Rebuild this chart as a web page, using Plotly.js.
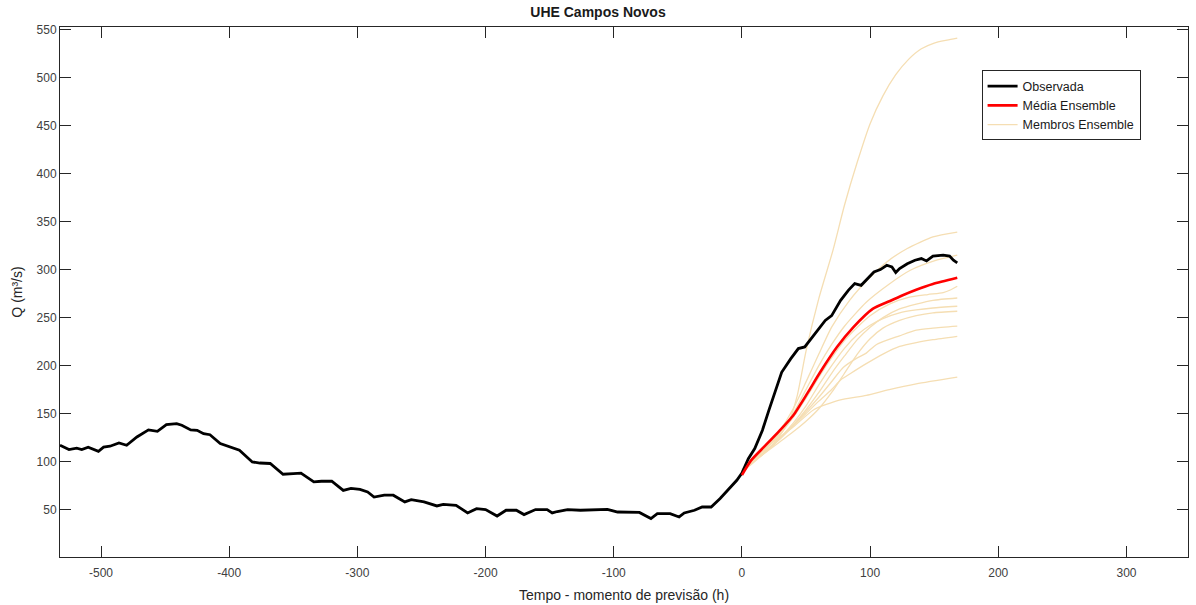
<!DOCTYPE html>
<html>
<head>
<meta charset="utf-8">
<script src="https://cdn.plot.ly/plotly-3.0.1.min.js"></script>
<style>
  html, body { margin: 0; padding: 0; background: #fff; }
  #chart { width: 1196px; height: 605px; }
</style>
</head>
<body>
<div id="chart"></div>
<script>
// ---- Data ----
const obsT = [-532,-525,-519,-515,-510,-502,-498,-493,-486,-480,-472,-463,-456,-449,-441,-437,-430,-425,-420,-415,-407,-399,-392,-382,-376,-368,-358,-350,-344,-334,-328,-320,-311,-305,-298,-292,-287,-279,-272,-263,-258,-248,-238,-233,-223,-214,-207,-200,-191,-184,-176,-170,-161,-152,-148,-144,-136,-126,-115,-105,-97,-89,-80,-71,-66,-56,-49,-45,-37,-31,-24,-17,-9,-4,0,5,10,16,21,26,31,38,44,49,55,61,65,70,77,83,88,93,99,103,108,113,117,120,123,129,135,140,144,149,157,162,165,168];
const obsQ = [117,112.5,114,112.5,115,110.7,115,116,119.4,117,125.6,133,131.5,138.5,139.6,137.8,133,132.6,129,128,118.8,115,111.8,99.6,98.5,98,86.8,87.5,88,78.8,79.5,79.5,70,72,71,68.3,63,65,65,58,60.4,58,53.8,55.5,54.5,46.5,51,50,43.3,49.3,49.3,44.8,50,50,46.5,48,50,49.3,50,50.3,47.5,47,47,40.6,45.8,45.8,42.3,46.5,49.3,52.7,52.7,61.5,73.5,80.5,88,103,113.5,132.6,153.4,174,193,207,217.7,219.4,229.8,240,247,252,268,278.4,285.4,283.6,292.3,297.5,300,304.5,302.7,296.9,301,306,309.7,311.5,309,314,315,314,309.7,307];

const meanT = [0,7,17,32,40,51,61,74,87,102,115,125,136,149,168];
const meanQ = [86,101,115,136,148,171,193,219,240,259,267,273,279,285,291.5];

const memA_T = [0,10,20,27,37,43,50,60,71,80,90,100,110,120,130,140,150,160,168];
const memA_Q = [90,102,112,122,143,168,215,270,320,367,412,452,481,503,519,530,536,539,541];
const memB_T = [0,10,20,30,40,50,60,70,84,100,113,129,149,168];
const memB_Q = [90,103,116,133,155,183,212,240,268,292,308,322,334,339];
const memC_T = [0,10,20,30,40,50,60,70,80,97,115,131,150,168];
const memC_Q = [92,104,116,131,150,175,200,222,241,266,285,299,309,315];
const memD_T = [0,10,20,30,40,50,60,70,80,90,100,115,130,145,157,163,168];
const memD_Q = [91,103,115,129,146,166,188,208,226,240,252,264,271,274,276,279,282.6];
const memE_T = [0,10,20,30,40,50,60,70,80,90,100,110,123,136,149,168];
const memE_Q = [90,101,112,124,138,154,172,192,210,227,240,250,259,264,268,270.4];
const memF_T = [0,10,20,30,40,50,60,70,80,90,100,110,123,136,149,168];
const memF_Q = [89,100,112,125,140,158,180,200,218,232,242,249,255,258,260,261.8];
const memG_T = [0,10,20,30,40,50,60,70,80,90,100,110,123,136,149,168];
const memG_Q = [90,101,111,121,131,142,155,172,192,212,228,239,247,252,255,256.6];
const memH_T = [0,10,20,30,40,50,60,71,79,90,97,105,123,136,149,168];
const memH_Q = [91,102,113,125,138,152,167,185,198,208,213,222,231,237,239,241];
const memI_T = [0,10,20,30,40,50,60,70,77,85,97,110,123,136,149,168];
const memI_Q = [90,101,112,124,137,150,163,175,185,192,202,212,220,224,227,230.5];
const memJ_T = [0,9,25,40,56,76,97,115,136,168];
const memJ_Q = [90,104,121,136,154,164,169,175,181,188];

const membersT = [memA_T, memB_T, memC_T, memD_T, memE_T, memF_T, memG_T, memH_T, memI_T, memJ_T];
const membersQ = [memA_Q, memB_Q, memC_Q, memD_Q, memE_Q, memF_Q, memG_Q, memH_Q, memI_Q, memJ_Q];

const xTicks = [-500,-400,-300,-200,-100,0,100,200,300];
const yTicks = [50,100,150,200,250,300,350,400,450,500,550];

const legendNames = ['Observada', 'Média Ensemble', 'Membros Ensemble'];

// ---- Traces ----
const traces = [];
membersT.forEach((t, i) => {
  traces.push({
    x: t, y: membersQ[i], type: 'scatter', mode: 'lines',
    line: {color: '#F5DEB3', width: 1.3, shape: 'spline', smoothing: 0.6},
    name: legendNames[2], legendgroup: 'm', showlegend: i === 0, legendrank: 3,
    hoverinfo: 'skip'
  });
});
traces.push({
  x: obsT, y: obsQ, type: 'scatter', mode: 'lines',
  line: {color: '#000000', width: 2.8},
  name: legendNames[0], legendrank: 1
});
traces.push({
  x: meanT, y: meanQ, type: 'scatter', mode: 'lines',
  line: {color: '#FF0000', width: 2.6, shape: 'spline', smoothing: 0.6},
  name: legendNames[1], legendrank: 2
});

const axCol = '#262626';
const layout = {
  width: 1196, height: 605,
  paper_bgcolor: '#ffffff', plot_bgcolor: '#ffffff',
  margin: {l: 60, r: 8, t: 27, b: 48},
  font: {family: 'Liberation Sans, Arial, sans-serif', size: 12, color: '#404040'},
  title: {text: '<b>UHE Campos Novos</b>', x: 0.5, xanchor: 'center', y: 0.98, yanchor: 'middle',
          font: {size: 14, color: '#1a1a1a'}},
  showlegend: true,
  legend: {x: 0.817, y: 0.918, xanchor: 'left', yanchor: 'top',
           bgcolor: '#ffffff', bordercolor: axCol, borderwidth: 1,
           font: {size: 12.5, color: '#1a1a1a'}, tracegroupgap: 0,
           traceorder: 'normal'},
  xaxis: {
    range: [-532, 348], tickvals: xTicks, ticktext: xTicks.map(String),
    ticks: 'inside', ticklen: 11, tickcolor: axCol, tickwidth: 1,
    showline: true, linecolor: axCol, linewidth: 1, mirror: 'ticks',
    showgrid: false, zeroline: false, ticklabelstandoff: 5,
    tickfont: {size: 12, color: '#404040'},
    title: {text: 'Tempo - momento de previsão (h)', font: {size: 14, color: '#262626'}, standoff: 10}
  },
  yaxis: {
    range: [0.6, 552.7], tickvals: yTicks, ticktext: yTicks.map(String),
    ticks: 'inside', ticklen: 11, tickcolor: axCol, tickwidth: 1,
    showline: true, linecolor: axCol, linewidth: 1, mirror: 'ticks',
    showgrid: false, zeroline: false,
    tickfont: {size: 12, color: '#404040'},
    title: {text: 'Q (m³/s)', font: {size: 14, color: '#262626'}, standoff: 10}
  }
};

Plotly.newPlot('chart', traces, layout, {displayModeBar: false, staticPlot: true});
</script>
</body>
</html>
